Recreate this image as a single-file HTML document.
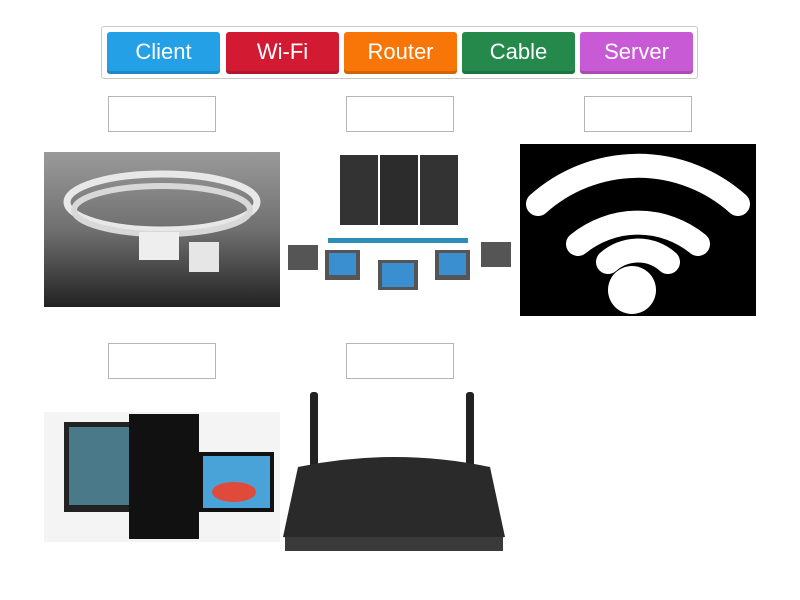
<!DOCTYPE html>
<html><head><style>
body{margin:0;width:800px;height:600px;background:#fff;position:relative;overflow:hidden;font-family:"Liberation Sans",sans-serif}
.a{position:absolute}
.bar{left:101px;top:26px;width:595px;height:51px;border:1px solid #c8c8c8;border-radius:3px}
.b{top:32px;width:113px;height:42px;border-radius:3px;color:#fff;font-size:22px;text-align:center;line-height:40px;box-shadow:inset 0 -3px 0 rgba(0,0,0,.15)}
.box{width:106px;height:34px;border:1px solid #b5b5b5}
</style></head><body>
<div class="a bar"></div>
<div class="a b" style="left:107px;background:#23a0e6">Client</div>
<div class="a b" style="left:226px;background:#d21a32">Wi-Fi</div>
<div class="a b" style="left:344px;background:#f87607">Router</div>
<div class="a b" style="left:462px;background:#24894a">Cable</div>
<div class="a b" style="left:580px;background:#c95ad6">Server</div>
<div class="a box" style="left:108px;top:96px"></div>
<div class="a box" style="left:346px;top:96px"></div>
<div class="a box" style="left:584px;top:96px"></div>
<div class="a box" style="left:108px;top:343px"></div>
<div class="a box" style="left:346px;top:343px"></div>

<svg class="a" style="left:44px;top:152px" width="236" height="155">
<defs><linearGradient id="g1" x1="0" y1="0" x2="0" y2="1"><stop offset="0" stop-color="#9a9a9a"/><stop offset=".5" stop-color="#707070"/><stop offset="1" stop-color="#222"/></linearGradient></defs>
<rect width="236" height="155" fill="url(#g1)"/>
<ellipse cx="118" cy="50" rx="95" ry="28" fill="none" stroke="#e8e8e8" stroke-width="7"/>
<ellipse cx="118" cy="58" rx="88" ry="24" fill="none" stroke="#d8d8d8" stroke-width="6"/>
<rect x="95" y="80" width="40" height="28" fill="#eee"/><rect x="145" y="90" width="30" height="30" fill="#e6e6e6"/>
</svg>
<svg class="a" style="left:283px;top:150px" width="235" height="168">
<rect x="57" y="5" width="38" height="70" fill="#333"/><rect x="97" y="5" width="38" height="70" fill="#2c2c2c"/><rect x="137" y="5" width="38" height="70" fill="#333"/>
<g fill="#2d8fb8"><rect x="45" y="88" width="140" height="5"/></g>
<g fill="#555"><rect x="5" y="95" width="30" height="25"/><rect x="42" y="100" width="35" height="30"/><rect x="95" y="110" width="40" height="30"/><rect x="152" y="100" width="35" height="30"/><rect x="198" y="92" width="30" height="25"/></g>
<g fill="#3a8fd0"><rect x="46" y="103" width="27" height="22"/><rect x="99" y="113" width="32" height="24"/><rect x="156" y="103" width="27" height="22"/></g>
</svg>
<svg class="a" style="left:520px;top:144px" width="236" height="172">
<rect width="236" height="172" fill="#000"/>
<g fill="none" stroke="#fff" stroke-linecap="round" stroke-width="24">
<path d="M18 60 A150 150 0 0 1 218 60"/>
<path d="M58 100 A95 95 0 0 1 178 100"/>
<path d="M88 118 A45 45 0 0 1 148 118"/>
</g>
<circle cx="112" cy="146" r="24" fill="#fff"/>
</svg>
<svg class="a" style="left:44px;top:412px" width="236" height="130">
<rect width="236" height="130" fill="#f4f4f4"/>
<rect x="20" y="10" width="70" height="90" fill="#222"/><rect x="25" y="15" width="60" height="78" fill="#4a7a8a"/>
<rect x="85" y="2" width="70" height="125" fill="#111"/>
<rect x="155" y="40" width="75" height="60" fill="#111"/><rect x="159" y="44" width="67" height="52" fill="#4aa3d8"/>
<ellipse cx="190" cy="80" rx="22" ry="10" fill="#e04a3a"/>
</svg>
<svg class="a" style="left:283px;top:392px" width="222" height="161">
<rect x="27" y="0" width="8" height="75" rx="3" fill="#222"/><rect x="183" y="0" width="8" height="75" rx="3" fill="#222"/>
<path d="M15 75 Q111 55 207 75 L222 145 Q111 160 0 145 Z" fill="#2a2a2a"/>
<rect x="2" y="145" width="218" height="14" fill="#3a3a3a"/>
</svg>
</body></html>
